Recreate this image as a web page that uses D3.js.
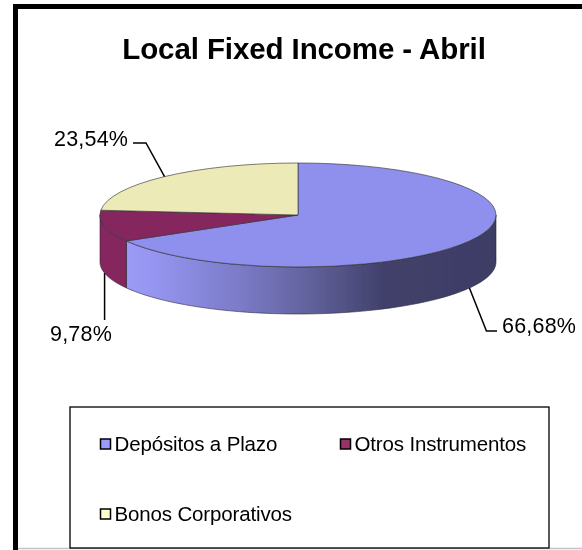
<!DOCTYPE html>
<html><head><meta charset="utf-8">
<script src="https://cdn.jsdelivr.net/npm/d3@7"></script>
<style>html,body{margin:0;padding:0;background:#fff}svg{display:block}
text{font-family:"Liberation Sans",Arial,sans-serif;fill:#000}</style></head>
<body><div id="c"></div>
<script>
const categories = ["Depósitos a Plazo", "Otros Instrumentos", "Bonos Corporativos"];
const values = [66.68, 9.78, 23.54];
const valueLabels = ["66,68%", "9,78%", "23,54%"];
const topColors = ["#8f8fee", "#85285f", "#ecebb8"];
const legendColors = ["#9999ff", "#993366", "#ffffcc"];
const chartTitle = "Local Fixed Income - Abril";

const W = 582, H = 550;
const cx = 298, cy = 215, rx = 198, ry = 52, depth = 47;

const svg = d3.select("#c").append("svg").attr("width", W).attr("height", H);
const defs = svg.append("defs");
defs.append("filter").attr("id","soft").attr("x","-5%").attr("y","-5%").attr("width","110%").attr("height","110%")
  .append("feGaussianBlur").attr("stdDeviation",0.35);
const grad = defs.append("linearGradient").attr("id","side").attr("gradientUnits","userSpaceOnUse")
  .attr("x1",cx-rx).attr("x2",cx+rx).attr("y1",0).attr("y2",0);
[[0,"#a0a0fa"],[0.13,"#9696f2"],[0.35,"#7b7bc8"],[0.52,"#63639f"],[0.72,"#40406a"],[1,"#3d3d66"]]
  .forEach(([o,c])=>grad.append("stop").attr("offset",o).attr("stop-color",c));

const root = svg.append("g").attr("filter","url(#soft)");

// page frame
root.append("path").attr("d",`M15.5 ${H}V6.5H${W}`).attr("fill","none").attr("stroke","#000").attr("stroke-width",5);
root.append("line").attr("x1",18).attr("x2",W).attr("y1",H-1.5).attr("y2",H-1.5).attr("stroke","#c4c4c4").attr("stroke-width",1.5);

root.append("text").attr("x",304).attr("y",59).attr("text-anchor","middle")
  .attr("font-size",29.5).attr("font-weight","bold").attr("letter-spacing",-0.1).text(chartTitle);

const pie = d3.pie().sort(null).value(d=>d)(values);
const px = t => cx + rx*Math.sin(t), py = t => cy - ry*Math.cos(t);

// side walls: only the front half (parametric angle 90° to 270°) is visible
const sidePath = (a,b) => {
  const ts = d3.range(0,61).map(i=>a+(b-a)*i/60);
  const l = d3.line();
  const up = ts.map(t=>[px(t),py(t)]);
  const down = ts.slice().reverse().map(t=>[px(t),py(t)+depth]);
  return l(up.concat(down))+"Z";
};
const front0 = Math.PI/2, front1 = 3*Math.PI/2;
pie.forEach((p,i)=>{
  const a = Math.max(p.startAngle,front0), b = Math.min(p.endAngle,front1);
  if (a>=b) return;
  root.append("path").attr("d",sidePath(a,b))
    .attr("fill", i===0 ? "url(#side)" : topColors[i])
    .attr("stroke","#2a2a3a").attr("stroke-width",0.8).attr("stroke-opacity",0.75);
});
// top face
const arc = d3.arc().innerRadius(0).outerRadius(rx);
const topFace = root.append("g").attr("transform",`translate(${cx},${cy}) scale(1,${ry/rx})`);
topFace.selectAll("path").data(pie).join("path").attr("d",arc)
  .attr("fill",(d,i)=>topColors[i]).attr("stroke","#333").attr("stroke-width",0.8).attr("stroke-opacity",0.8)
  .attr("vector-effect","non-scaling-stroke");

// leaders, anchored at each slice's mid-angle on the rim
const mid = pie.map(p=>(p.startAngle+p.endAngle)/2);
const anchor = i => { const t=mid[i]; return [px(t), py(t)+(Math.cos(t)<0?depth:0)]; };
const lead = d3.line();
const leaderBends = [
  a=>[[a[0]+17,331],[497,331]],
  a=>[[a[0],320]],
  a=>[[146,143],[133,143]]
];
const labelPos = [[502,333],[50,341],[54,146]];
pie.forEach((p,i)=>{
  const a = anchor(i);
  root.append("path").attr("d",lead([a,...leaderBends[i](a)])).attr("fill","none").attr("stroke","#000").attr("stroke-width",1.5);
  root.append("text").attr("x",labelPos[i][0]).attr("y",labelPos[i][1]).attr("font-size",21.5).attr("letter-spacing",0.2).text(valueLabels[i]);
});

// legend
root.append("rect").attr("x",70).attr("y",407).attr("width",479).attr("height",141)
  .attr("fill","#fff").attr("stroke","#000").attr("stroke-width",1.3);
const legendPos = [[100,444],[340,444],[100,514]];
categories.forEach((c,i)=>{
  const [x,y]=legendPos[i];
  root.append("rect").attr("x",x+.5).attr("y",y-5).attr("width",10).attr("height",10)
    .attr("fill",legendColors[i]).attr("stroke","#000").attr("stroke-width",1.5);
  root.append("text").attr("x",x+14.5).attr("y",y+7).attr("font-size",20.5).attr("letter-spacing",-0.15).text(c);
});
</script></body></html>
